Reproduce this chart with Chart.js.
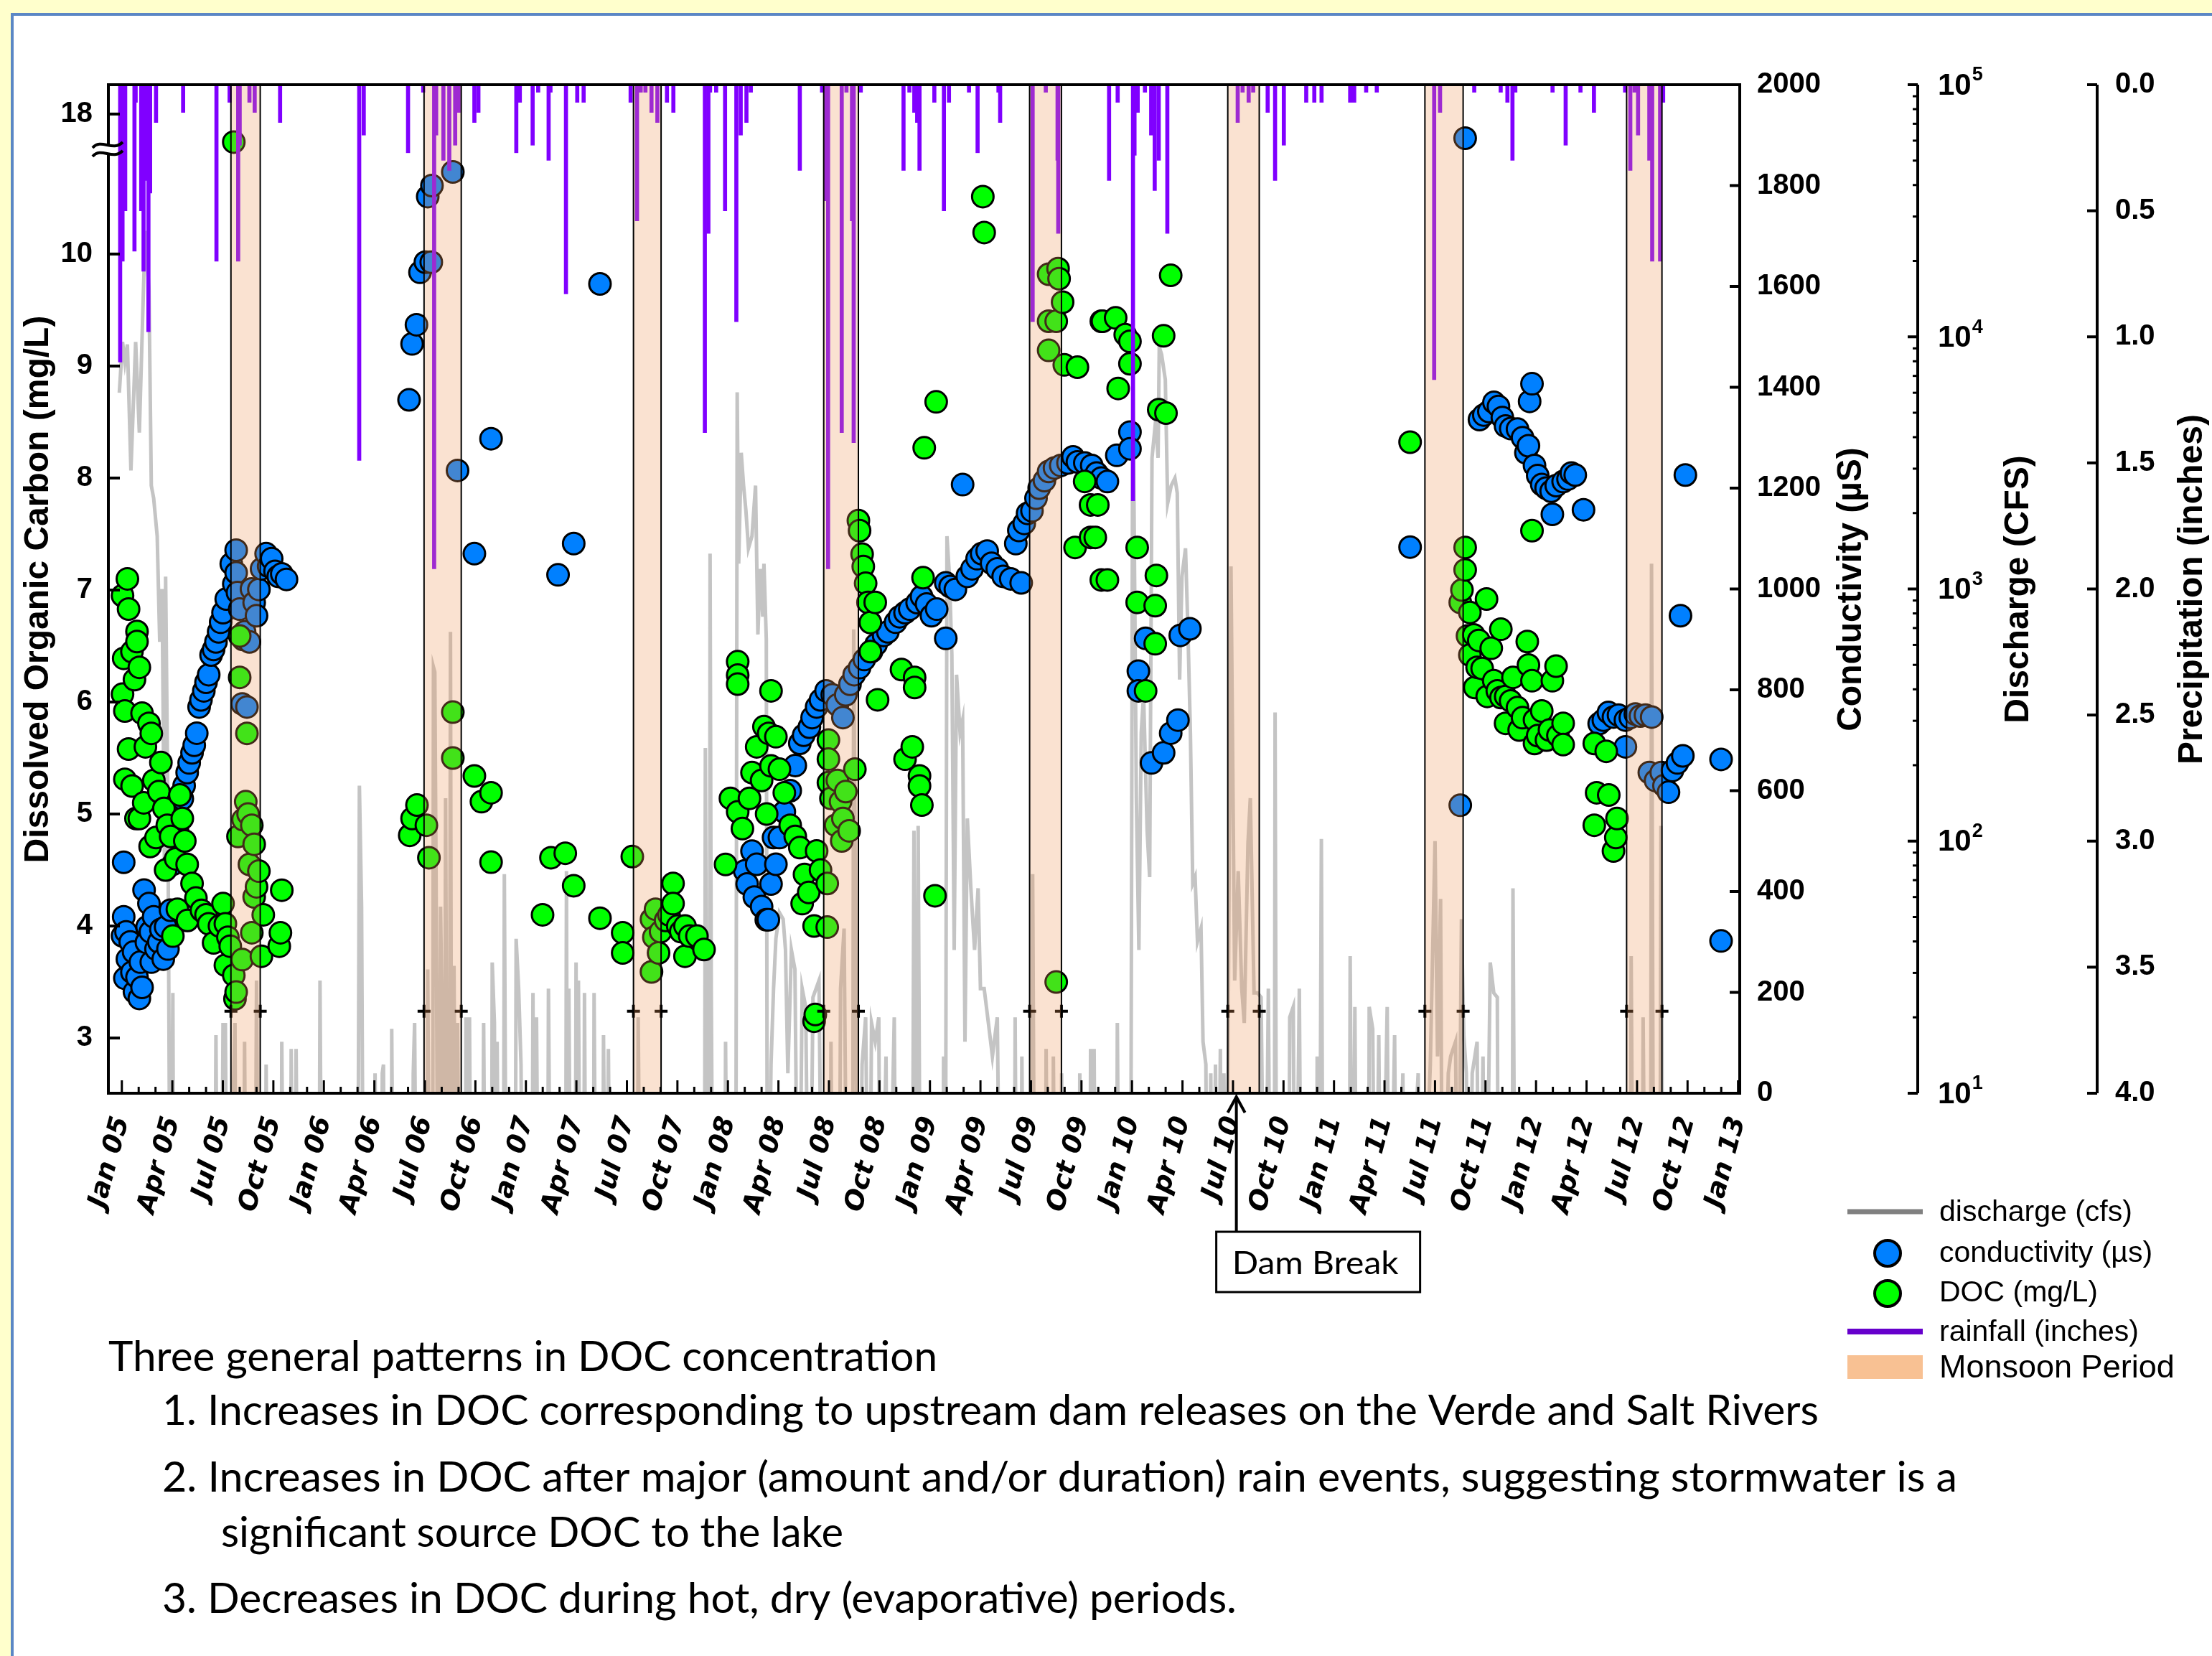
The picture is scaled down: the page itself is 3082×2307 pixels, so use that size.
<!DOCTYPE html>
<html>
<head>
<meta charset="utf-8">
<script src="https://cdn.jsdelivr.net/npm/chart.js@4.4.0/dist/chart.umd.min.js"></script>
<style>
  html, body { margin: 0; padding: 0; background: #ffffcc; overflow: hidden; }
  canvas { display: block; }
</style>
</head>
<body>
<canvas id="docChart" width="3082" height="2307"></canvas>
<script>
// months are counted from Jan 2005 (0 = Jan 05, 96 = Jan 13)
const xTickLabels = [
  "Jan 05", "Apr 05", "Jul 05", "Oct 05", "Jan 06", "Apr 06", "Jul 06", "Oct 06",
  "Jan 07", "Apr 07", "Jul 07", "Oct 07", "Jan 08", "Apr 08", "Jul 08", "Oct 08",
  "Jan 09", "Apr 09", "Jul 09", "Oct 09", "Jan 10", "Apr 10", "Jul 10", "Oct 10",
  "Jan 11", "Apr 11", "Jul 11", "Oct 11", "Jan 12", "Apr 12", "Jul 12", "Oct 12", "Jan 13",
];
const docTicks = [3, 4, 5, 6, 7, 8, 9, 10, 18];
const condTicks = [0, 200, 400, 600, 800, 1000, 1200, 1400, 1600, 1800, 2000];
const flowTicks = [10, 100, 1000, 10000, 100000];
const rainTicks = [0, 0.5, 1, 1.5, 2, 2.5, 3, 3.5, 4];

const monsoonStart = [6.48, 17.95, 30.39, 41.69, 53.92, 65.69, 77.4, 89.38];
const monsoonEnd = [8.22, 20.16, 32.03, 43.75, 55.81, 67.56, 79.67, 91.48];
const damBreakMonth = 66.2;

// conductivity (uS) : [month, value]
const condReadings = [
  [0.04,312],[0.11,458],[0.11,350],[0.18,228],[0.25,320],[0.33,266],[0.5,300],[0.6,240],[0.7,280],[0.75,201],
  [0.9,230],[1.04,188],[1.1,260],[1.2,210],[1.32,403],[1.46,299],[1.5,330],[1.61,376],[1.7,320],[1.75,260],
  [1.89,350],[2.03,286],[2.2,300],[2.32,325],[2.46,266],[2.6,330],[2.74,286],[2.89,363],[3.03,454],[3.31,520],
  [3.45,550],[3.59,584],[3.7,610],[3.88,636],[4.0,655],[4.17,675],[4.3,690],[4.45,714],[4.59,766],[4.7,780],
  [4.87,798],[5.0,815],[5.16,830],[5.3,869],[5.45,880],[5.59,895],[5.75,915],[5.87,934],[6.01,953],[6.2,980],
  [6.5,1050],[6.65,1010],[6.79,1077],[6.79,1032],[6.87,993],[7.0,960],[7.15,772],[7.2,900],[7.29,915],[7.43,766],
  [7.58,895],[7.7,1000],[7.86,973],[8.0,947],[8.14,999],[8.3,1040],[8.57,1070],[8.72,1045],[8.9,1060],[9.1,1035],
  [9.29,1025],[9.5,1030],[9.78,1019],
  [17.06,1375],[17.24,1486],[17.5,1524],[17.71,1628],[18.03,1648],[18.17,1778],[18.38,1648],[18.42,1800],
  [19.66,1827],[19.94,1235],[20.94,1070],[21.93,1298],[25.91,1028],[26.84,1090],[28.4,1605],
  [37.0,441],[37.14,415],[37.43,480],[37.57,389],[37.71,454],[38.0,370],[38.28,344],[38.4,344],[38.56,415],[38.71,507],
  [38.85,454],[39.06,507],[39.35,558],[39.7,600],[40.0,650],[40.27,694],[40.5,710],[40.84,726],[41.0,745],[41.27,766],
  [41.5,780],[41.83,798],[42.2,790],[42.5,770],[42.83,745],[43.0,790],[43.25,811],[43.5,830],[43.82,844],[44.1,860],
  [44.53,876],[44.8,890],[45.25,908],[45.5,915],[45.96,934],[46.2,945],[46.52,953],[46.8,960],[47.24,973],[47.5,985],
  [47.8,970],[48.09,947],[48.4,960],[48.94,902],[48.94,1012],[49.2,1005],[49.51,999],[49.94,1207],[50.22,1025],[50.5,1040],
  [50.8,1060],[51.07,1070],[51.4,1075],[51.66,1051],[52.0,1040],[52.35,1025],[52.8,1020],[53.1,1090],[53.28,1116],[53.42,1012],
  [53.6,1130],[53.8,1150],[54.06,1155],[54.3,1180],[54.49,1200],[54.8,1215],[55.05,1233],[55.4,1240],[55.77,1245],[56.2,1250],
  [56.5,1262],[56.76,1252],[57.2,1250],[57.61,1245],[57.9,1230],[58.18,1220],[58.54,1213],[59.1,1265],[59.88,1311],[59.88,1278],
  [60.38,837],[60.38,798],[60.81,902],[61.16,655],[61.88,675],[62.3,714],[62.73,740],[62.87,908],[63.44,921],
  [76.52,1083],[79.5,571],[79.79,1894],[80.64,1336],[80.9,1345],[81.2,1352],[81.5,1370],[81.77,1362],[82.0,1340],[82.19,1323],
  [82.5,1318],[82.9,1317],[83.2,1300],[83.4,1270],[83.55,1284],[83.62,1372],[83.76,1407],[83.91,1245],[84.1,1225],[84.34,1207],
  [84.6,1200],[84.9,1194],[84.97,1148],[85.2,1205],[85.61,1213],[85.9,1218],[86.1,1230],[86.33,1226],[86.82,1157],[87.75,733],
  [88.0,740],[88.3,755],[88.6,746],[88.9,750],[89.31,740],[89.31,687],[89.6,745],[89.9,752],[90.2,748],[90.5,750],
  [90.73,636],[90.87,746],[91.1,620],[91.44,636],[91.6,610],[91.87,597],[92.1,640],[92.4,655],[92.58,947],[92.72,669],
  [92.87,1226],[94.99,662],[94.99,302],
];

// dissolved organic carbon (mg/L) : [month, value]
const docReadings = [
  [0.04,6.95],[0.04,6.07],[0.11,6.39],[0.18,5.92],[0.18,5.31],[0.33,7.1],[0.4,6.83],[0.4,5.58],[0.6,6.45],[0.61,5.25],
  [0.75,6.2],[0.84,4.96],[0.9,6.63],[0.9,6.54],[1.04,6.31],[1.04,4.96],[1.2,5.9],[1.3,5.1],[1.4,5.6],[1.61,5.81],
  [1.68,4.71],[1.75,5.72],[1.9,5.3],[2.03,4.79],[2.2,5.2],[2.32,5.46],[2.5,5.05],[2.6,4.5],[2.7,4.9],[2.9,4.8],
  [3.03,3.91],[3.2,4.6],[3.3,4.15],[3.45,5.17],[3.59,4.96],[3.74,4.76],[3.88,4.55],[3.9,4.05],[4.17,4.38],[4.4,4.25],
  [4.73,4.14],[5.0,4.1],[5.16,4.02],[5.45,3.85],[5.8,4.0],[6.01,4.2],[6.15,4.02],[6.15,3.65],[6.3,3.9],[6.44,3.82],
  [6.65,3.56],[6.65,16.4],[6.72,3.35],[6.79,3.41],[6.9,4.8],[7.0,6.59],[7.0,6.22],[7.15,3.7],[7.2,4.95],[7.36,5.11],
  [7.43,5.72],[7.5,5.0],[7.58,4.55],[7.72,4.9],[7.72,3.94],[7.86,4.73],[7.86,4.26],[8.0,4.35],[8.14,4.49],[8.29,3.73],
  [8.4,4.1],[9.35,3.82],[9.42,3.94],[9.5,4.32],
  [17.1,4.81],[17.24,4.96],[17.53,5.08],[18.09,4.9],[18.24,4.61],[19.66,5.91],[19.66,5.5],[20.94,5.34],[21.36,5.11],[21.93,5.19],
  [21.93,4.57],[24.99,4.1],[25.49,4.61],[26.34,4.65],[26.84,4.36],[28.4,4.07],[29.75,3.94],[29.75,3.76],[30.32,4.62],[31.46,4.06],
  [31.46,3.59],[31.6,3.9],[31.7,4.15],[31.88,3.76],[32.0,3.95],[32.3,4.05],[32.5,4.1],[32.74,4.38],[32.74,4.2],[33.02,4.0],
  [33.2,3.95],[33.45,4.0],[33.45,3.73],[33.73,3.91],[34.16,3.91],[34.58,3.79],
  [35.86,4.55],[36.15,5.14],[36.58,6.36],[36.58,6.24],[36.58,6.16],[36.58,5.02],[36.86,4.87],[37.28,5.14],[37.43,5.37],[37.71,5.6],
  [38.0,5.3],[38.14,5.78],[38.3,5.0],[38.42,5.72],[38.56,6.1],[38.56,5.43],[38.85,5.69],[39.06,5.4],[39.35,5.19],[39.7,4.9],
  [40.0,4.8],[40.27,4.7],[40.41,4.2],[40.55,4.46],[40.8,4.3],[41.12,4.0],[41.12,3.15],[41.19,3.21],[41.27,4.67],[41.5,4.5],
  [41.9,4.38],[41.9,3.99],[41.97,5.66],[41.97,5.49],[41.97,5.28],[42.12,5.14],[42.4,4.9],[42.5,5.3],[42.69,5.11],[42.76,4.76],
  [42.83,4.96],[43.0,5.2],[43.2,4.85],[43.54,5.4],[43.75,7.62],[43.82,7.53],[43.97,7.32],[44.04,7.21],[44.18,7.06],[44.32,6.89],
  [44.46,6.71],[44.46,6.45],[44.75,6.89],[44.89,6.02],[46.31,6.29],[46.52,5.49],[46.95,5.6],[47.09,6.22],[47.09,6.13],[47.38,5.34],
  [47.38,5.25],[47.52,5.08],[47.59,7.11],[47.66,8.27],[48.3,4.27],[48.37,8.68],[51.14,13.28],[51.22,11.23],[55.05,9.82],[55.05,9.4],
  [55.05,9.14],[55.5,9.4],[55.5,3.5],[55.61,9.87],[55.67,9.78],[55.88,9.57],[55.98,9.01],[56.62,7.38],[56.76,8.99],[57.19,7.97],
  [57.54,7.76],[57.54,7.47],[57.82,7.47],[57.97,7.76],[58.18,9.4],[58.18,7.09],[58.25,9.4],[58.54,7.09],[59.03,9.43],[59.18,8.8],
  [59.6,9.28],[59.88,9.22],[59.88,9.02],[60.31,7.38],[60.31,6.89],[60.81,6.1],[61.38,6.86],[61.38,6.52],[61.45,7.13],[61.59,8.61],
  [61.88,9.27],[62.02,8.58],[62.3,9.81],
  [76.52,8.32],[79.5,6.89],[79.6,7.0],[79.79,7.38],[79.79,7.18],[79.93,6.59],[80.07,6.8],[80.07,6.42],[80.3,6.6],[80.36,6.13],
  [80.5,6.31],[80.6,6.55],[80.8,6.3],[81.06,6.92],[81.1,6.05],[81.34,6.48],[81.49,6.19],[81.7,6.1],[81.91,6.65],[81.92,6.04],
  [82.19,5.81],[82.2,6.05],[82.49,6.01],[82.63,6.22],[82.9,5.95],[83.0,5.75],[83.2,5.86],[83.48,6.54],[83.55,6.33],[83.76,6.19],
  [83.76,7.53],[83.91,5.84],[83.91,5.63],[84.1,5.7],[84.34,5.92],[84.62,5.66],[84.8,5.75],[84.97,6.19],[85.19,6.32],[85.3,5.7],
  [85.61,5.81],[85.61,5.62],[87.46,5.63],[87.46,4.9],[87.6,5.19],[88.17,5.56],[88.32,5.17],[88.6,4.67],[88.74,4.79],[88.81,4.96],
];

// daily rainfall (inches) : [month, value]
const rainReadings = [
  [-0.1,1.1],[0.04,0.7],[0.2,0.5],[0.75,0.66],[0.82,0.07],[1.15,0.5],[1.29,0.74],[1.39,0.38],[1.5,0.25],[1.58,0.98],
  [1.68,0.43],[2.03,0.15],[3.64,0.11],[5.62,0.7],[6.4,0.07],[6.91,0.7],[7.0,0.24],[7.58,0.07],[7.89,0.11],[9.4,0.15],
  [14.1,1.49],[14.37,0.2],[17.0,0.27],[17.9,0.03],[18.55,1.92],[18.67,0.2],[19.1,0.3],[19.45,0.34],[19.8,0.24],[20.0,0.11],
  [20.94,0.15],[21.18,0.11],[23.43,0.27],[23.64,0.07],[24.4,0.24],[24.73,0.03],[25.35,0.3],[25.46,0.03],[26.38,0.83],[27.05,0.07],
  [27.43,0.07],[30.22,0.07],[30.6,0.54],[30.82,0.03],[31.1,0.03],[31.46,0.11],[31.81,0.15],[32.38,0.07],[32.76,0.11],[34.63,1.38],
  [34.84,0.59],[34.94,0.03],[35.3,0.03],[35.83,0.5],[36.5,0.94],[36.76,0.2],[37.1,0.15],[37.36,0.03],[40.27,0.34],[41.59,0.03],
  [41.83,0.46],[41.95,1.92],[42.76,1.38],[43.04,0.03],[43.37,0.54],[43.47,1.42],[43.89,0.03],[46.43,0.34],[46.78,0.03],[47.07,0.11],
  [47.24,0.15],[47.38,0.34],[48.26,0.07],[48.83,0.5],[49.13,0.07],[50.32,0.03],[50.83,0.27],[52.07,0.03],[52.17,0.15],[54.1,0.94],
  [54.88,0.03],[55.58,0.3],[55.62,0.59],[58.64,0.38],[59.15,0.07],[60.06,1.65],[60.15,0.28],[60.34,0.11],[60.77,0.03],[61.14,0.2],
  [61.35,0.42],[61.59,0.3],[62.1,0.59],[66.28,0.15],[66.57,0.03],[66.93,0.07],[67.2,0.03],[68.06,0.11],[68.5,0.38],[69.02,0.24],
  [70.35,0.07],[70.83,0.07],[71.26,0.07],[72.96,0.07],[73.2,0.07],[73.91,0.03],[74.54,0.03],[77.95,1.17],[78.3,0.11],[80.33,0.03],
  [81.9,0.03],[82.3,0.07],[82.6,0.3],[82.77,0.03],[84.98,0.03],[85.76,0.24],[86.64,0.03],[87.44,0.11],[89.29,0.03],[89.6,0.34],
  [89.85,0.03],[90.06,0.2],[90.73,0.3],[90.9,0.7],[91.37,0.7],[91.55,0.07],
];

// river discharge (cfs), 0 = no flow : [month, value]
const flowReadings = [
  [-0.15,6000],[0.04,9550],[0.18,7940],[0.33,9330],[0.54,2950],[0.82,9550],[1.04,4170],[1.25,12900],[1.39,26300],[1.61,15500],
  [1.75,2570],[1.89,2290],[2.1,1620],[2.25,617],[2.39,1000],[2.53,81],[2.6,1120],[2.74,123],[2.89,0],[3.03,25],
  [3.1,0],[5.5,0],[5.59,17],[5.7,0],[5.9,0],[6.01,19],[6.08,0],[6.15,19],[6.27,0],[6.72,19],
  [6.8,0],[7.2,0],[7.29,16],[7.4,0],[7.9,0],[8.0,28],[8.14,0],[8.5,0],[8.57,13],[8.7,0],
  [9.45,0],[9.5,16],[9.64,0],[10.0,0],[10.06,15],[10.2,0],[10.3,0],[10.35,15],[10.5,0],[11.7,0],
  [11.77,28],[11.9,0],[14.0,0],[14.11,166],[14.24,55],[14.37,0],[15.0,0],[15.04,12],[15.2,0],[15.4,0],
  [15.47,12],[15.54,13],[15.65,0],[16.0,0],[16.03,18],[16.16,0],[17.25,0],[17.31,12],[17.39,19],[17.53,0],
  [18.1,0],[18.17,31],[18.3,0],[18.45,0],[18.51,490],[18.59,468],[18.66,81],[18.8,0],[18.93,55],[19.02,19],
  [19.15,0],[19.23,148],[19.35,0],[19.45,0],[19.52,676],[19.6,0],[19.73,32],[19.85,0],[19.94,19],[20.09,0],
  [20.4,0],[20.44,20],[20.5,0],[20.6,0],[20.65,20],[20.77,0],[21.4,0],[21.49,19],[21.62,0],[21.95,0],
  [22.0,33],[22.13,19],[22.2,0],[22.29,16],[22.43,0],[22.65,0],[22.72,74],[22.86,0],[23.35,0],[23.42,41],
  [23.57,26],[23.71,13],[23.84,0],[24.35,0],[24.42,25],[24.5,0],[24.63,20],[24.78,0],[25.28,0],[25.34,26],
  [25.5,0],[26.35,0],[26.41,76],[26.48,0],[26.55,26],[26.7,0],[26.92,0],[26.98,33],[27.05,0],[27.12,28],
  [27.25,0],[27.42,0],[27.48,25],[27.59,0],[28.0,0],[28.05,25],[28.19,0],[28.55,0],[28.61,17],[28.75,0],
  [28.9,15],[29.04,0],[30.6,0],[30.67,20],[30.83,0],[34.6,0],[34.66,234],[34.8,0],[34.9,0],[34.94,1380],
  [35.01,26],[35.14,0],[35.8,0],[35.86,16],[35.99,0],[36.46,0],[36.55,6030],[36.64,1260],[36.79,3470],[36.93,2570],
  [37.07,2040],[37.22,1450],[37.43,1620],[37.64,2570],[37.78,660],[37.92,1200],[38.07,776],[38.14,1260],[38.28,630],[38.35,0],
  [38.56,13],[38.71,26],[38.85,41],[39.06,52],[39.28,49],[39.42,37],[39.56,12],[39.77,37],[39.98,31],[40.2,0],
  [40.41,26],[40.62,22],[40.84,0],[41.05,24],[41.41,28],[41.62,0],[42.05,0],[42.12,16],[42.26,0],[42.6,0],
  [42.69,26],[42.9,45],[43.11,0],[43.4,0],[43.47,692],[43.61,22],[43.75,0],[43.97,13],[44.18,20],[44.39,0],
  [44.53,19],[44.75,16],[44.96,20],[45.07,0],[45.39,14],[45.5,0],[45.88,20],[46.01,0],[46.94,0],[47.05,110],
  [47.16,0],[47.3,115],[47.45,0],[48.75,0],[48.81,14],[48.91,0],[49.01,1620],[49.16,1120],[49.3,550],[49.44,37],
  [49.58,457],[49.79,269],[49.94,302],[50.08,16],[50.22,123],[50.43,65],[50.65,37],[50.86,65],[51.0,26],[51.22,26],
  [51.43,20],[51.71,14],[52.0,20],[52.22,0],[53.0,0],[53.06,20],[53.17,0],[53.4,0],[53.46,14],[53.6,0],
  [54.05,0],[54.1,74],[54.24,0],[54.85,0],[54.9,15],[55.04,0],[55.3,0],[55.33,14],[55.47,0],[55.78,0],
  [55.82,12],[55.94,0],[56.85,0],[56.9,12],[57.02,0],[57.5,0],[57.54,15],[57.65,0],[57.7,0],[57.75,15],
  [57.87,0],[59.08,0],[59.13,19],[59.27,0],[59.91,0],[60.05,8510],[60.26,148],[60.41,37],[60.55,269],[60.69,380],
  [60.9,110],[61.05,72],[61.19,3310],[61.41,4680],[61.55,3310],[61.62,9120],[61.76,8510],[61.98,6760],[62.12,2190],[62.33,2570],
  [62.55,2750],[62.69,2400],[62.83,437],[62.97,1120],[63.18,1450],[63.33,660],[63.47,269],[63.61,68],[63.75,72],[63.89,40],
  [64.1,45],[64.22,16],[64.39,13],[64.5,0],[64.68,12],[64.8,0],[64.96,13],[65.1,0],[65.25,15],[65.35,0],
  [65.46,12],[65.6,0],[65.88,1230],[66.1,28],[66.31,76],[66.52,26],[66.67,19],[66.89,98],[67.03,148],[67.25,25],
  [67.46,25],[67.67,24],[67.9,0],[68.1,26],[68.24,0],[68.45,0],[68.5,324],[68.6,0],[69.3,0],[69.37,20],
  [69.58,22],[69.7,0],[69.94,26],[70.08,0],[70.95,0],[71.0,14],[71.13,0],[71.25,102],[71.36,0],[72.9,0],
  [72.96,35],[73.1,0],[73.24,22],[73.37,0],[74.05,0],[74.09,22],[74.3,18],[74.45,0],[74.66,17],[74.8,0],
  [75.16,22],[75.3,0],[75.6,17],[75.74,0],[76.09,12],[76.2,0],[77.0,12],[77.13,0],[77.72,13],[78.0,100],
  [78.15,14],[78.33,59],[78.46,0],[78.79,12],[78.93,14],[79.22,16],[79.36,0],[79.57,49],[79.71,17],[79.86,12],
  [80.0,0],[80.21,12],[80.5,16],[80.64,0],[80.85,14],[81.0,0],[81.28,33],[81.49,25],[81.7,24],[81.78,0],
  [82.58,0],[82.63,65],[82.77,0],[89.6,0],[89.65,35],[89.79,0],[90.3,0],[90.36,20],[90.52,0],[90.8,0],
  [90.86,1260],[90.99,0],[91.35,0],[91.42,115],[91.55,0],
];

const noteLines = [
  "Three general patterns in DOC concentration",
  "1. Increases in DOC corresponding to upstream dam releases on the Verde and Salt Rivers",
  "2. Increases in DOC after major (amount and/or duration) rain events, suggesting stormwater is a",
  "significant source DOC to the lake",
  "3. Decreases in DOC during hot, dry (evaporative) periods.",
];

const W = 3082, H = 2307;
const AXIS_FONT = '"Liberation Sans", Arial, sans-serif';

// the DOC axis is broken above 10: 10..18 is squeezed into 1.25 units
function docPos(v) {
  return v <= 10 ? v : 10 + (v - 10) * 0.15625;
}

function fitText(ctx, text, x, y, width, font) {
  ctx.font = font;
  const k = width / ctx.measureText(text).width;
  ctx.save();
  ctx.translate(x, y);
  ctx.scale(k, 1);
  ctx.fillText(text, 0, 0);
  ctx.restore();
}

function vTitle(ctx, text, cx, cy) {
  ctx.save();
  ctx.translate(cx, cy);
  ctx.rotate(-Math.PI / 2);
  ctx.font = "bold 48px " + AXIS_FONT;
  ctx.textAlign = "center";
  ctx.textBaseline = "middle";
  ctx.fillText(text, 0, 0);
  ctx.restore();
}

function line(ctx, x0, y0, x1, y1) {
  ctx.beginPath();
  ctx.moveTo(x0, y0);
  ctx.lineTo(x1, y1);
  ctx.stroke();
}

const decor = {
  id: "decor",
  beforeDraw(chart) {
    const ctx = chart.ctx;
    ctx.save();
    ctx.fillStyle = "#ffffcc";
    ctx.fillRect(0, 0, W, H);
    ctx.fillStyle = "#ffffff";
    ctx.fillRect(17, 20, W - 17, H - 20);
    ctx.strokeStyle = "#5b87c5";
    ctx.lineWidth = 4;
    ctx.beginPath();
    ctx.moveTo(17, H);
    ctx.lineTo(17, 20);
    ctx.lineTo(W, 20);
    ctx.stroke();
    ctx.restore();
  },
  afterDatasetsDraw(chart) {
    const ctx = chart.ctx, a = chart.chartArea, x = chart.scales.x;
    ctx.save();
    monsoonStart.forEach((m, i) => {
      const x0 = x.getPixelForValue(m), x1 = x.getPixelForValue(monsoonEnd[i]);
      ctx.fillStyle = "rgba(238,150,90,0.28)";
      ctx.fillRect(x0, a.top, x1 - x0, a.bottom - a.top);
      ctx.strokeStyle = "#000";
      ctx.lineWidth = 2;
      line(ctx, x0, a.top, x0, a.bottom);
      line(ctx, x1, a.top, x1, a.bottom);
    });
    ctx.restore();
  },
  afterDraw(chart) {
    const ctx = chart.ctx, a = chart.chartArea, s = chart.scales;
    ctx.save();
    ctx.strokeStyle = "#000";
    ctx.fillStyle = "#000";

    // frame and the two outer axes
    ctx.lineWidth = 4;
    ctx.strokeRect(a.left, a.top, a.right - a.left, a.bottom - a.top);
    line(ctx, s.yQ.left, a.top, s.yQ.left, a.bottom);
    line(ctx, s.yP.left, a.top, s.yP.left, a.bottom);

    // inward tick marks
    ctx.lineWidth = 3;
    for (let m = 0; m <= 96; m++) {
      const px = s.x.getPixelForValue(m);
      line(ctx, px, a.bottom, px, a.bottom - (m % 3 === 0 ? 18 : 9));
    }
    ctx.lineWidth = 4;
    docTicks.forEach(v => {
      const py = s.yDoc.getPixelForValue(docPos(v));
      line(ctx, a.left, py, a.left + 16, py);
    });
    condTicks.forEach(v => {
      const py = s.yC.getPixelForValue(v);
      line(ctx, a.right, py, a.right - 14, py);
    });
    rainTicks.forEach(v => {
      const py = s.yP.getPixelForValue(v);
      line(ctx, s.yP.left, py, s.yP.left - 14, py);
    });
    flowTicks.forEach((v, i) => {
      const py = s.yQ.getPixelForValue(v);
      ctx.lineWidth = 4;
      line(ctx, s.yQ.left, py, s.yQ.left - 14, py);
      if (i < flowTicks.length - 1) {
        ctx.lineWidth = 3;
        for (let k = 2; k <= 9; k++) {
          const pm = s.yQ.getPixelForValue(v * k);
          line(ctx, s.yQ.left, pm, s.yQ.left - 7, pm);
        }
      }
    });

    // discharge labels with exponents
    ctx.textBaseline = "middle";
    ctx.textAlign = "left";
    flowTicks.forEach(v => {
      const py = s.yQ.getPixelForValue(v);
      ctx.font = "bold 42px " + AXIS_FONT;
      const lx = s.yQ.left + 28;
      ctx.fillText("10", lx, py + 2);
      const w = ctx.measureText("10").width;
      ctx.font = "bold 27px " + AXIS_FONT;
      ctx.fillText(String(Math.round(Math.log10(v))), lx + w + 1, py - 13);
    });

    // axis break mark on the DOC axis
    const by = 208;
    ctx.fillStyle = "#fff";
    ctx.fillRect(a.left - 6, by - 6, 12, 12);
    ctx.lineWidth = 4;
    [by - 6, by + 6].forEach(yy => {
      ctx.beginPath();
      ctx.moveTo(a.left - 22, yy + 4);
      ctx.bezierCurveTo(a.left - 10, yy - 10, a.left + 6, yy + 10, a.left + 20, yy - 4);
      ctx.stroke();
    });

    // axis titles
    ctx.fillStyle = "#000";
    vTitle(ctx, "Dissolved Organic Carbon (mg/L)", 54, 821);
    vTitle(ctx, "Conductivity (\u00b5S)", 2580, 821);
    vTitle(ctx, "Discharge (CFS)", 2813, 821);
    vTitle(ctx, "Precipitation (inches)", 3055, 821);

    // legend
    const lx0 = 2574, lx1 = 2679, tx = 2702;
    ctx.lineCap = "butt";
    ctx.strokeStyle = "#808080";
    ctx.lineWidth = 7;
    line(ctx, lx0, 1688, lx1, 1688);
    ctx.strokeStyle = "#6600cc";
    ctx.lineWidth = 8;
    line(ctx, lx0, 1855, lx1, 1855);
    ctx.fillStyle = "#f8c193";
    ctx.fillRect(lx0, 1888, lx1 - lx0, 33);
    [["#0080ff", 1746], ["#00ff00", 1802]].forEach(([c, cy]) => {
      ctx.beginPath();
      ctx.arc(2630, cy, 18, 0, Math.PI * 2);
      ctx.fillStyle = c;
      ctx.fill();
      ctx.strokeStyle = "#000";
      ctx.lineWidth = 4;
      ctx.stroke();
    });
    ctx.fillStyle = "#000";
    ctx.textBaseline = "middle";
    ctx.font = "41px " + AXIS_FONT;
    ctx.fillText("discharge (cfs)", tx, 1690);
    ctx.fillText("conductivity (\u00b5s)", tx, 1747);
    ctx.fillText("DOC (mg/L)", tx, 1802);
    ctx.fillText("rainfall (inches)", tx, 1857);
    ctx.font = "45px " + AXIS_FONT;
    ctx.fillText("Monsoon Period", tx, 1907);

    // dam break callout
    const ax = s.x.getPixelForValue(damBreakMonth);
    ctx.strokeStyle = "#000";
    ctx.lineWidth = 4;
    line(ctx, ax, 1716, ax, 1530);
    ctx.beginPath();
    ctx.moveTo(ax - 12, 1550);
    ctx.lineTo(ax, 1528);
    ctx.lineTo(ax + 12, 1550);
    ctx.stroke();
    ctx.lineWidth = 3;
    ctx.fillStyle = "#fff";
    ctx.fillRect(ax - 28, 1716, 284, 84);
    ctx.strokeRect(ax - 28, 1716, 284, 84);
    ctx.fillStyle = "#000";
    ctx.textBaseline = "alphabetic";
    fitText(ctx, "Dam Break", ax - 6, 1775, 232, "45px Lato");

    // notes under the chart
    fitText(ctx, noteLines[0], 151, 1910, 1155, "58px Lato");
    fitText(ctx, noteLines[1], 226, 1985, 2308, "58px Lato");
    fitText(ctx, noteLines[2], 226, 2078, 2501, "58px Lato");
    fitText(ctx, noteLines[3], 308, 2155, 867, "58px Lato");
    fitText(ctx, noteLines[4], 226, 2247, 1497, "58px Lato");
    ctx.restore();
  },
};

const tickFont = { family: AXIS_FONT, size: 40, weight: "bold" };

new Chart(document.getElementById("docChart"), {
  type: "scatter",
  data: {
    datasets: [
      {
        type: "bar",
        label: "rainfall (inches)",
        data: rainReadings.map(([m, v]) => ({ x: m, y: v })),
        yAxisID: "yP",
        backgroundColor: "#8000ff",
        barThickness: 5,
        order: 1,
      },
      {
        label: "crosses",
        data: monsoonStart.concat(monsoonEnd).map(m => ({ x: m, y: 3.24 })),
        yAxisID: "yDoc",
        pointStyle: "cross",
        pointRadius: 9,
        borderColor: "#000",
        borderWidth: 4,
        order: 2,
      },
      {
        label: "DOC (mg/L)",
        data: docReadings.map(([m, v]) => ({ x: m, y: docPos(v) })),
        yAxisID: "yDoc",
        pointRadius: 15,
        backgroundColor: "#00ff00",
        borderColor: "#000",
        borderWidth: 3,
        order: 3,
      },
      {
        label: "conductivity (us)",
        data: condReadings.map(([m, v]) => ({ x: m, y: v })),
        yAxisID: "yC",
        pointRadius: 15,
        backgroundColor: "#0080ff",
        borderColor: "#000",
        borderWidth: 3,
        order: 4,
      },
      {
        type: "line",
        label: "discharge (cfs)",
        // no-flow days sit below the 10 cfs floor of the log axis
        data: flowReadings.map(([m, v]) => ({ x: m, y: v > 0 ? v : 1 })),
        yAxisID: "yQ",
        showLine: true,
        borderColor: "#c4c4c4",
        borderWidth: 5,
        pointRadius: 0,
        tension: 0,
        order: 5,
      },
    ],
  },
  options: {
    responsive: false,
    devicePixelRatio: 1,
    animation: false,
    layout: { padding: { left: 0, right: 0, top: 118, bottom: 584 } },
    plugins: { legend: { display: false }, tooltip: { enabled: false } },
    scales: {
      x: {
        type: "linear",
        position: "bottom",
        min: -0.8,
        max: 96.1,
        offset: false,
        grid: { display: false, drawTicks: false, offset: false },
        border: { display: false },
        afterBuildTicks: sc => { sc.ticks = xTickLabels.map((_, i) => ({ value: i * 3 })); },
        afterFit: sc => { sc.height = 200; },
        ticks: {
          autoSkip: false,
          minRotation: 75,
          maxRotation: 75,
          padding: 28,
          color: "#000",
          font: { family: '"DejaVu Sans"', size: 37, weight: "bold", style: "italic" },
          callback: v => xTickLabels[Math.round(v / 3)],
        },
      },
      yDoc: {
        type: "linear",
        position: "left",
        min: 2.507,
        max: 11.512,
        grid: { display: false, drawTicks: false },
        border: { display: false },
        afterBuildTicks: sc => { sc.ticks = docTicks.map(v => ({ value: docPos(v) })); },
        afterFit: sc => { sc.width = 151; },
        ticks: { padding: 22, color: "#000", font: tickFont, callback: v => (v > 10.5 ? "18" : String(v)) },
      },
      yC: {
        type: "linear",
        position: "right",
        weight: 0,
        min: 0,
        max: 2000,
        grid: { display: false, drawTicks: false },
        border: { display: false },
        afterBuildTicks: sc => { sc.ticks = condTicks.map(v => ({ value: v })); },
        afterFit: sc => { sc.width = 248; },
        ticks: { padding: 24, color: "#000", font: tickFont, callback: v => String(v) },
      },
      yQ: {
        type: "logarithmic",
        position: "right",
        weight: 1,
        min: 10,
        max: 100000,
        grid: { display: false, drawTicks: false },
        border: { display: false },
        afterBuildTicks: sc => { sc.ticks = flowTicks.map(v => ({ value: v })); },
        afterFit: sc => { sc.width = 250; },
        ticks: { display: false },
      },
      yP: {
        type: "linear",
        position: "right",
        weight: 2,
        min: 0,
        max: 4,
        reverse: true,
        grid: { display: false, drawTicks: false },
        border: { display: false },
        afterBuildTicks: sc => { sc.ticks = rainTicks.map(v => ({ value: v })); },
        afterFit: sc => { sc.width = 160; },
        ticks: { padding: 25, color: "#000", font: tickFont, callback: v => v.toFixed(1) },
      },
    },
  },
  plugins: [decor],
});
</script>
</body>
</html>
